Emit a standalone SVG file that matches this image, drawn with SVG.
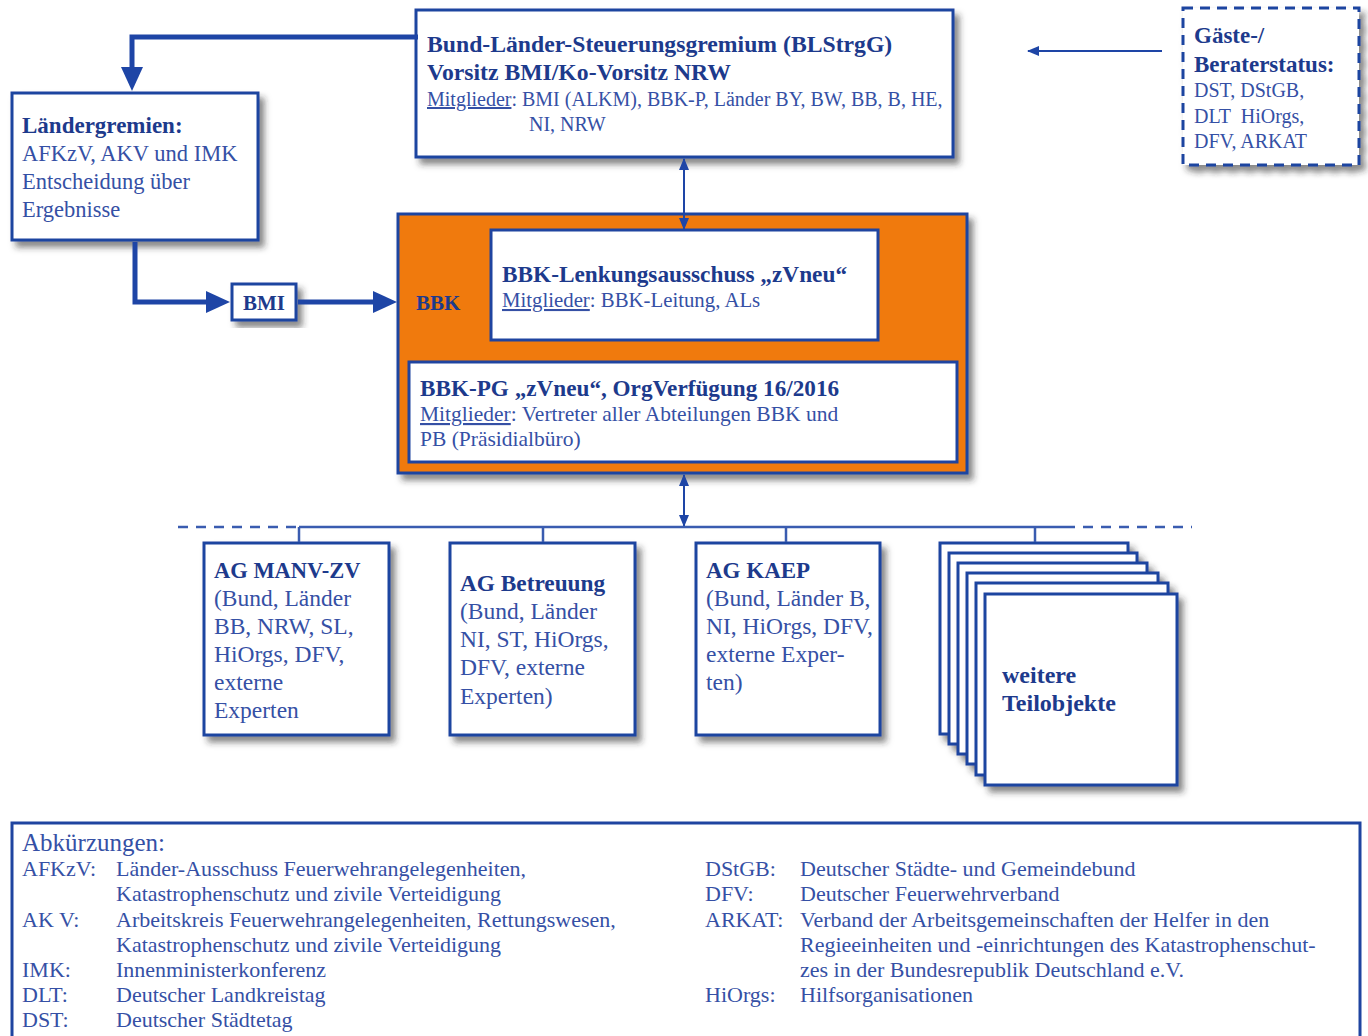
<svg xmlns="http://www.w3.org/2000/svg" width="1368" height="1036" viewBox="0 0 1368 1036">
<style>
.box{fill:#fff;stroke:#1f44a0;stroke-width:3;filter:url(#sh)}
.dash{fill:#fff;stroke:#1f44a0;stroke-width:3;stroke-dasharray:10 7;filter:url(#sh)}
.t{font-family:"Liberation Serif","Times New Roman",serif;fill:#3550a5}
.h{font-family:"Liberation Serif","Times New Roman",serif;fill:#1d3a8c;font-weight:bold}
.thick{fill:none;stroke:#1e45a6;stroke-width:5}
.thin{fill:none;stroke:#1e45a6;stroke-width:2}
.bus{fill:none;stroke:#3a5cb0;stroke-width:2.5}
.u{text-decoration:underline}
</style>
<defs>
<filter id="sh" x="-10%" y="-10%" width="130%" height="130%"><feDropShadow dx="5" dy="6" stdDeviation="3" flood-color="#2a2a2a" flood-opacity="0.55"/></filter>
<marker id="big" markerUnits="userSpaceOnUse" markerWidth="24" markerHeight="22" refX="6" refY="11" orient="auto"><path d="M0,0 L24,11 L0,22 z" fill="#1e45a6"/></marker>
<marker id="sm" markerUnits="userSpaceOnUse" markerWidth="12" markerHeight="10" refX="11" refY="5" orient="auto-start-reverse"><path d="M0,0 L12,5 L0,10 z" fill="#1e45a6"/></marker>
</defs>
<rect width="1368" height="1036" fill="#fff"/>

<g id="blstrgg">
<rect class="box" x="416" y="10" width="537" height="147"/>
<text class="h" x="427" y="52" font-size="23.7">Bund-Länder-Steuerungsgremium (BLStrgG)</text>
<text class="h" x="427" y="80" font-size="23.7">Vorsitz BMI/Ko-Vorsitz NRW</text>
<text class="t" x="427" y="106" font-size="20"><tspan class="u">Mitglieder</tspan>: BMI (ALKM), BBK-P, Länder BY, BW, BB, B, HE,</text>
<text class="t" x="529" y="131" font-size="20">NI, NRW</text>
</g>

<g id="gaeste">
<rect class="dash" x="1183" y="8" width="176" height="157"/>
<text class="h" x="1194" y="43" font-size="23">Gäste-/</text>
<text class="h" x="1194" y="72" font-size="23">Beraterstatus:</text>
<text class="t" x="1194" y="97" font-size="20">DST, DStGB,</text>
<text class="t" x="1194" y="123" font-size="20">DLT <tspan dx="5">HiOrgs,</tspan></text>
<text class="t" x="1194" y="148" font-size="20">DFV, ARKAT</text>
</g>

<g id="laendergremien">
<rect class="box" x="12" y="93" width="246" height="147"/>
<text class="h" x="22" y="133" font-size="23">Ländergremien:</text>
<text class="t" x="22" y="161" font-size="22.5">AFKzV, AKV und IMK</text>
<text class="t" x="22" y="189" font-size="22.5">Entscheidung über</text>
<text class="t" x="22" y="217" font-size="22.5">Ergebnisse</text>
</g>

<g id="bmi">
<rect class="box" x="232" y="284" width="64" height="36"/>
<text class="h" x="264" y="310" font-size="21" text-anchor="middle">BMI</text>
</g>

<g id="bbk">
<rect x="398" y="214" width="569" height="259" fill="#f07a10" stroke="#1f44a0" stroke-width="3" filter="url(#sh)"/>
<text class="h" x="416" y="310" font-size="21" fill="#1f44a0">BBK</text>
</g>

<g id="lenkungsausschuss">
<rect x="491" y="230" width="387" height="110" fill="#fff" stroke="#1f44a0" stroke-width="3"/>
<text class="h" x="502" y="282" font-size="23.3">BBK-Lenkungsausschuss „zVneu“</text>
<text class="t" x="502" y="307" font-size="20.8"><tspan class="u">Mitglieder</tspan>: BBK-Leitung, ALs</text>
</g>

<g id="bbk-pg">
<rect x="409" y="362" width="548" height="100" fill="#fff" stroke="#1f44a0" stroke-width="3"/>
<text class="h" x="420" y="396" font-size="23.2">BBK-PG „zVneu“, OrgVerfügung 16/2016</text>
<text class="t" x="420" y="421" font-size="21.5"><tspan class="u">Mitglieder</tspan>: Vertreter aller Abteilungen BBK und</text>
<text class="t" x="420" y="446" font-size="21.5">PB (Präsidialbüro)</text>
</g>

<g id="ag-manv">
<rect class="box" x="204" y="543" width="185" height="192"/>
<text class="h" x="214" y="578" font-size="22.5">AG MANV-ZV</text>
<text class="t" x="214" y="606" font-size="23.5">(Bund, Länder</text>
<text class="t" x="214" y="634" font-size="23.5">BB, NRW, SL,</text>
<text class="t" x="214" y="662" font-size="23.5">HiOrgs, DFV,</text>
<text class="t" x="214" y="690" font-size="23.5">externe</text>
<text class="t" x="214" y="718" font-size="23.5">Experten</text>
</g>

<g id="ag-betreuung">
<rect class="box" x="450" y="543" width="185" height="192"/>
<text class="h" x="460" y="591" font-size="23.3">AG Betreuung</text>
<text class="t" x="460" y="619" font-size="23.5">(Bund, Länder</text>
<text class="t" x="460" y="647" font-size="23.5">NI, ST, HiOrgs,</text>
<text class="t" x="460" y="675" font-size="23.5">DFV, externe</text>
<text class="t" x="460" y="704" font-size="23.5">Experten)</text>
</g>

<g id="ag-kaep">
<rect class="box" x="696" y="543" width="184" height="192"/>
<text class="h" x="706" y="578" font-size="23">AG KAEP</text>
<text class="t" x="706" y="606" font-size="23.5">(Bund, Länder B,</text>
<text class="t" x="706" y="634" font-size="23.5">NI, HiOrgs, DFV,</text>
<text class="t" x="706" y="662" font-size="23.5">externe Exper-</text>
<text class="t" x="706" y="690" font-size="23.5">ten)</text>
</g>

<g id="weitere">
<rect class="box" x="940" y="543" width="188" height="191"/>
<rect class="box" x="949" y="553" width="188" height="191"/>
<rect class="box" x="958" y="563" width="189" height="191"/>
<rect class="box" x="967" y="573" width="191" height="191"/>
<rect class="box" x="976" y="583" width="192" height="192"/>
<rect class="box" x="985" y="594" width="192" height="191"/>
<text class="h" x="1002" y="683" font-size="24">weitere</text>
<text class="h" x="1002" y="711" font-size="24">Teilobjekte</text>
</g>

<g id="abkuerzungen">
<rect x="12" y="823" width="1348" height="230" fill="#fff" stroke="#1f44a0" stroke-width="3"/>
<text class="t" x="22" y="851" font-size="25" fill="#1f3d95">Abkürzungen:</text>
<g class="t" font-size="22">
<text x="22" y="876">AFKzV:</text><text x="116" y="876">Länder-Ausschuss Feuerwehrangelegenheiten,</text>
<text x="116" y="901">Katastrophenschutz und zivile Verteidigung</text>
<text x="22" y="927">AK V:</text><text x="116" y="927">Arbeitskreis Feuerwehrangelegenheiten, Rettungswesen,</text>
<text x="116" y="952">Katastrophenschutz und zivile Verteidigung</text>
<text x="22" y="977">IMK:</text><text x="116" y="977">Innenministerkonferenz</text>
<text x="22" y="1002">DLT:</text><text x="116" y="1002">Deutscher Landkreistag</text>
<text x="22" y="1027">DST:</text><text x="116" y="1027">Deutscher Städtetag</text>
<text x="705" y="876">DStGB:</text><text x="800" y="876">Deutscher Städte- und Gemeindebund</text>
<text x="705" y="901">DFV:</text><text x="800" y="901">Deutscher Feuerwehrverband</text>
<text x="705" y="927">ARKAT:</text><text x="800" y="927">Verband der Arbeitsgemeinschaften der Helfer in den</text>
<text x="800" y="952">Regieeinheiten und -einrichtungen des Katastrophenschut-</text>
<text x="800" y="977">zes in der Bundesrepublik Deutschland e.V.</text>
<text x="705" y="1002">HiOrgs:</text><text x="800" y="1002">Hilfsorganisationen</text>
</g>
</g>

<g id="connectors">
<path class="thick" d="M418,37 H132 V73" marker-end="url(#big)"/>
<path class="thick" d="M135,242 V302 H212" marker-end="url(#big)"/>
<path class="thick" d="M298,302 H379" marker-end="url(#big)"/>
<path class="thin" d="M684,159 V229" marker-start="url(#sm)" marker-end="url(#sm)"/>
<path class="thin" d="M1162,51 H1028" marker-end="url(#sm)"/>
<path class="thin" d="M684,475 V526" marker-start="url(#sm)" marker-end="url(#sm)"/>
<path class="bus" d="M178,527 H299" stroke-dasharray="10 8"/>
<path class="bus" d="M299,527 H1065"/>
<path class="bus" d="M1065,527 H1192" stroke-dasharray="10 8"/>
<path class="bus" d="M299,527 V542 M543,527 V542 M786,527 V542 M1035,527 V542"/>
</g>
</svg>
